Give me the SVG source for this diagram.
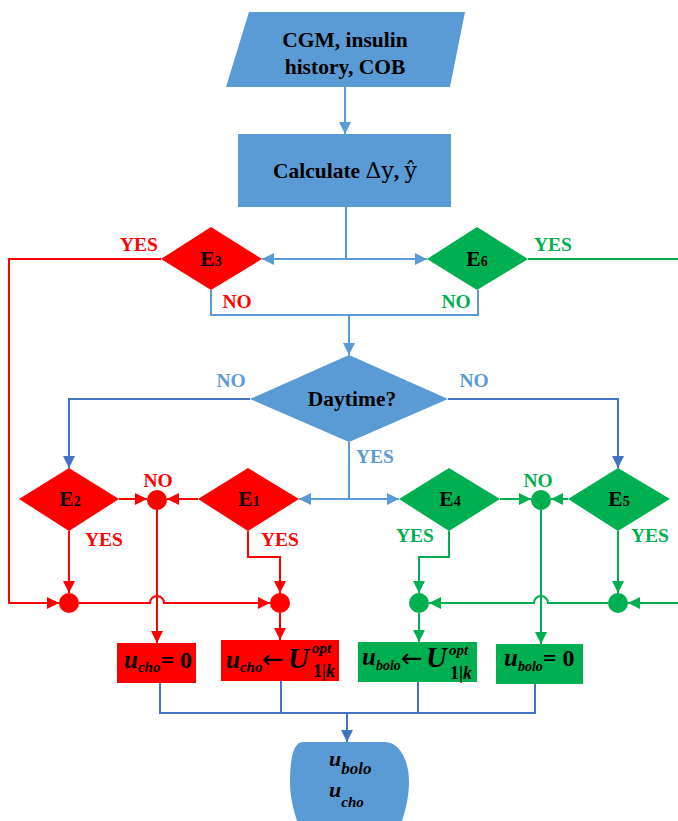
<svg xmlns="http://www.w3.org/2000/svg" width="678" height="821" viewBox="0 0 678 821">
<style>
.blue{fill:#5B9BD5}
.red{fill:#FF0000}
.green{fill:#00B050}
.nt{font-family:"Liberation Serif",serif;font-weight:bold;font-size:21.5px;fill:#000;text-anchor:middle}
.lab{font-family:"Liberation Serif",serif;font-weight:bold;font-size:19.5px;text-anchor:middle}
.lr{fill:#FF0000}
.lg{fill:#00B050}
.lb{fill:#5B9BD5}
.mi{font-family:"Liberation Serif",serif;font-weight:bold;font-style:italic;fill:#000}
.mu{font-family:"Liberation Serif",serif;font-weight:bold;fill:#000}
.ar{font-family:"DejaVu Sans",sans-serif;fill:#000}
.c-lb{fill:none;stroke:#5B9BD5;stroke-width:2}
.c-db{fill:none;stroke:#4472C4;stroke-width:2}
.c-r{fill:none;stroke:#FF0000;stroke-width:2}
.c-g{fill:none;stroke:#00B050;stroke-width:2}
</style>
<defs>
<marker id="a-lb" viewBox="0 0 12 12" refX="12" refY="6" markerWidth="12" markerHeight="12" markerUnits="userSpaceOnUse" orient="auto"><path d="M0,0 L12,6 L0,12 z" fill="#5B9BD5"/></marker>
<marker id="a-db" viewBox="0 0 12 12" refX="12" refY="6" markerWidth="12" markerHeight="12" markerUnits="userSpaceOnUse" orient="auto"><path d="M0,0 L12,6 L0,12 z" fill="#4472C4"/></marker>
<marker id="a-r" viewBox="0 0 12 12" refX="12" refY="6" markerWidth="12" markerHeight="12" markerUnits="userSpaceOnUse" orient="auto"><path d="M0,0 L12,6 L0,12 z" fill="#FF0000"/></marker>
<marker id="a-g" viewBox="0 0 12 12" refX="12" refY="6" markerWidth="12" markerHeight="12" markerUnits="userSpaceOnUse" orient="auto"><path d="M0,0 L12,6 L0,12 z" fill="#00B050"/></marker>
</defs>
<rect width="678" height="821" fill="#fff"/>

<g id="connectors">
<path class="c-lb" d="M345,87 V134" marker-end="url(#a-lb)"/>
<path class="c-lb" d="M346,207 V259"/>
<path class="c-lb" d="M346,259 H262" marker-end="url(#a-lb)"/>
<path class="c-lb" d="M346,259 H427" marker-end="url(#a-lb)"/>
<path class="c-lb" d="M211,290 V315 H478 V290"/>
<path class="c-lb" d="M349,315 V355" marker-end="url(#a-lb)"/>
<path class="c-db" d="M250,399 H69 V468" marker-end="url(#a-db)"/>
<path class="c-db" d="M448,399 H618 V468" marker-end="url(#a-db)"/>
<path class="c-lb" d="M349,442 V499"/>
<path class="c-lb" d="M349,499 H299" marker-end="url(#a-lb)"/>
<path class="c-lb" d="M349,499 H399" marker-end="url(#a-lb)"/>
<path class="c-r" d="M161,259 H9 V603 H59" marker-end="url(#a-r)"/>
<path class="c-r" d="M119,499 H147" marker-end="url(#a-r)"/>
<path class="c-r" d="M198,499 H167" marker-end="url(#a-r)"/>
<path class="c-r" d="M69,531 V593" marker-end="url(#a-r)"/>
<path class="c-r" d="M248,531 V557 H280 V593" marker-end="url(#a-r)"/>
<path class="c-r" d="M79,603 H150 A7,7 0 0 1 164,603 H270" marker-end="url(#a-r)"/>
<path class="c-r" d="M157,510 V643" marker-end="url(#a-r)"/>
<path class="c-r" d="M280,613 V640" marker-end="url(#a-r)"/>
<path class="c-g" d="M528,259 H678"/>
<path class="c-g" d="M678,603 H628" marker-end="url(#a-g)"/>
<path class="c-g" d="M500,499 H531" marker-end="url(#a-g)"/>
<path class="c-g" d="M568,499 H551" marker-end="url(#a-g)"/>
<path class="c-g" d="M449,531 V557 H419 V593" marker-end="url(#a-g)"/>
<path class="c-g" d="M618,531 V593" marker-end="url(#a-g)"/>
<path class="c-g" d="M608,603 H548 A7,7 0 0 0 534,603 H429" marker-end="url(#a-g)"/>
<path class="c-g" d="M541,510 V644" marker-end="url(#a-g)"/>
<path class="c-g" d="M419,613 V642" marker-end="url(#a-g)"/>
<path class="c-db" d="M160,683 V713 M281,681 V713 M418,682 V713 M535,684 V713 M159,713 H536"/>
<path class="c-db" d="M347,713 V742" marker-end="url(#a-db)"/>
</g>

<g id="labels" class="lab">
<text class="lr" x="139" y="251">YES</text>
<text class="lr" x="237" y="308">NO</text>
<text class="lg" x="456" y="308">NO</text>
<text class="lg" x="553" y="251">YES</text>
<text class="lb" x="231" y="387">NO</text>
<text class="lb" x="474" y="387">NO</text>
<text class="lb" x="375" y="463">YES</text>
<text class="lr" x="158" y="487">NO</text>
<text class="lr" x="104" y="546">YES</text>
<text class="lr" x="280" y="546">YES</text>
<text class="lg" x="538" y="487">NO</text>
<text class="lg" x="415" y="542">YES</text>
<text class="lg" x="650" y="542">YES</text>
</g>

<g id="input"><polygon class="blue" points="249,12 465,12 450,87 226,87"/>
<text class="nt" x="345" y="47">CGM, insulin</text>
<text class="nt" x="345" y="74">history, COB</text></g>

<g id="calc"><rect class="blue" x="238" y="134" width="213" height="73"/>
<text class="nt" x="345" y="178">Calculate <tspan font-family="DejaVu Serif" font-weight="normal" font-size="22">Δy</tspan>, <tspan font-family="DejaVu Serif" font-weight="normal" font-size="22">ŷ</tspan></text></g>

<g id="e3"><polygon class="red" points="161,259 211,227 262,259 211,290"/><text class="nt" x="211" y="266" font-size="20">E<tspan font-size="14">3</tspan></text></g>
<g id="e6"><polygon class="green" points="427,259 477,227 528,259 477,290"/><text class="nt" x="477" y="266" font-size="20">E<tspan font-size="14">6</tspan></text></g>

<g id="daytime"><polygon class="blue" points="250,399 349,355 448,399 349,442"/><text class="nt" x="352" y="406" font-size="23">Daytime?</text></g>

<g id="e2"><polygon class="red" points="19,499 69,468 119,499 69,531"/><text class="nt" x="70" y="506" font-size="20">E<tspan font-size="14">2</tspan></text></g>
<g id="e1"><polygon class="red" points="198,499 248,468 299,499 248,531"/><text class="nt" x="249" y="506" font-size="20">E<tspan font-size="14">1</tspan></text></g>
<g id="e4"><polygon class="green" points="399,499 449,468 500,499 449,531"/><text class="nt" x="450" y="506" font-size="20">E<tspan font-size="14">4</tspan></text></g>
<g id="e5"><polygon class="green" points="568,499 618,468 670,499 618,531"/><text class="nt" x="619" y="506" font-size="20">E<tspan font-size="14">5</tspan></text></g>

<g id="junctions">
<circle id="j-red-no" class="red" cx="157" cy="500" r="10"/>
<circle id="j-red-1" class="red" cx="69" cy="603" r="10"/>
<circle id="j-red-2" class="red" cx="280" cy="603" r="10"/>
<circle id="j-green-no" class="green" cx="541" cy="500" r="10"/>
<circle id="j-green-1" class="green" cx="419" cy="603" r="10"/>
<circle id="j-green-2" class="green" cx="618" cy="603" r="10"/>
</g>

<g id="box-cho0"><rect class="red" x="117" y="643" width="79" height="40"/>
<text y="668"><tspan class="mi" x="124" font-size="25">u</tspan><tspan class="mi" font-size="15" dy="4">cho</tspan><tspan class="mu" font-size="24" dy="-4">= 0</tspan></text></g>

<g id="box-choU"><rect class="red" x="221" y="640" width="118" height="41"/>
<text y="668"><tspan class="mi" x="226" font-size="25">u</tspan><tspan class="mi" font-size="15" dy="4">cho</tspan></text>
<text class="ar" x="262" y="668" font-size="26">←</text>
<text class="mi" x="288" y="668" font-size="29">U</text>
<text class="mi" x="312" y="653" font-size="15">opt</text>
<text x="313" y="677" font-size="18"><tspan class="mu">1|</tspan><tspan class="mi">k</tspan></text></g>

<g id="box-boloU"><rect class="green" x="358" y="642" width="119" height="40"/>
<text y="665"><tspan class="mi" x="362" font-size="25">u</tspan><tspan class="mi" font-size="14" dy="5">bolo</tspan></text>
<text class="ar" x="401" y="667" font-size="26">←</text>
<text class="mi" x="426" y="667" font-size="29">U</text>
<text class="mi" x="449" y="655" font-size="15">opt</text>
<text x="450" y="679" font-size="18"><tspan class="mu">1|</tspan><tspan class="mi">k</tspan></text></g>

<g id="box-bolo0"><rect class="green" x="496" y="644" width="87" height="40"/>
<text y="666"><tspan class="mi" x="504" font-size="25">u</tspan><tspan class="mi" font-size="14" dy="5">bolo</tspan><tspan class="mu" font-size="24" dy="-5">= 0</tspan></text></g>

<g id="output"><path class="blue" d="M303,742 H385 C399,742 409,760 409,782 C409,800 404,815 399,830 H300 C295,815 290,800 290,782 C290,760 293,742 303,742 Z"/>
<text y="766"><tspan class="mi" x="329" font-size="22">u</tspan><tspan class="mi" font-size="17" dy="8">bolo</tspan></text>
<text y="797"><tspan class="mi" x="329" font-size="22">u</tspan><tspan class="mi" font-size="15" dy="10">cho</tspan></text></g>
</svg>
